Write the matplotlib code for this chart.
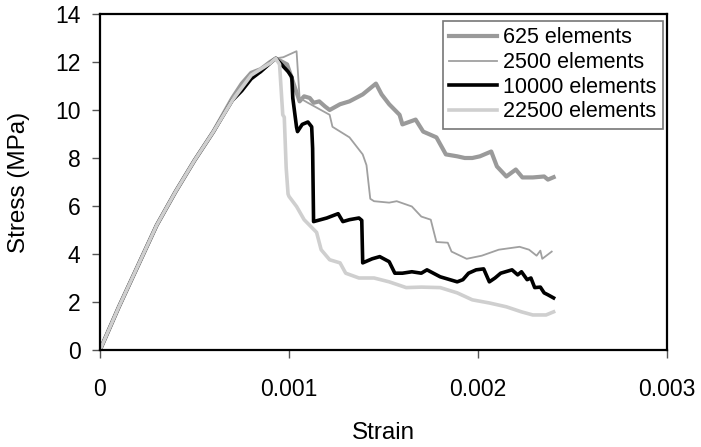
import matplotlib
matplotlib.use("Agg")
import matplotlib.pyplot as plt

plt.rcParams['font.family'] = ['Liberation Sans', 'DejaVu Sans']

# strain values in units of 1e-3, stress in MPa
strain_625 = [0, 0.1, 0.2, 0.3, 0.4, 0.5, 0.6, 0.7, 0.75, 0.8, 0.85, 0.9, 0.93,
              0.99, 1.056, 1.08, 1.11, 1.13, 1.16, 1.19, 1.215, 1.27, 1.32, 1.39, 1.46,
              1.49, 1.53, 1.585, 1.60, 1.67, 1.71, 1.78, 1.83, 1.89, 1.93, 1.97, 2.01,
              2.07, 2.10, 2.15, 2.20, 2.235, 2.29, 2.35, 2.37, 2.40]
stress_625 = [0, 1.8, 3.5, 5.2, 6.6, 7.9, 9.1, 10.5, 11.1, 11.55, 11.7, 12.0, 12.15,
              11.9, 10.36, 10.57, 10.5, 10.3, 10.36, 10.15, 10.0, 10.24, 10.36, 10.65, 11.1,
              10.65, 10.24, 9.8, 9.4, 9.6, 9.1, 8.86, 8.15, 8.07, 8.0, 8.0, 8.07,
              8.27, 7.65, 7.23, 7.52, 7.19, 7.19, 7.23, 7.1, 7.2]

strain_2500 = [0, 0.1, 0.2, 0.3, 0.4, 0.5, 0.6, 0.7, 0.75, 0.8, 0.85, 0.9, 0.93,
               0.97, 1.04, 1.056, 1.10, 1.146, 1.215, 1.23, 1.32, 1.39, 1.41, 1.43,
               1.45, 1.53, 1.57, 1.65, 1.70, 1.75, 1.78, 1.84, 1.86, 1.94, 2.02,
               2.11, 2.22, 2.27, 2.31, 2.33, 2.34, 2.39]
stress_2500 = [0, 1.8, 3.5, 5.2, 6.6, 7.9, 9.1, 10.4, 10.9, 11.5, 11.55, 11.9, 12.15,
               12.2, 12.45, 10.5, 10.3, 10.1, 9.8, 9.3, 8.86, 8.15, 7.7, 6.3,
               6.2, 6.14, 6.2, 5.98, 5.56, 5.43, 4.5, 4.47, 4.1, 3.8, 3.93,
               4.18, 4.3, 4.18, 3.93, 4.14, 3.8, 4.1]

strain_10000 = [0, 0.1, 0.2, 0.3, 0.4, 0.5, 0.6, 0.7, 0.75, 0.8, 0.85, 0.9, 0.93,
                0.96, 0.995, 1.015, 1.02, 1.04, 1.045, 1.07, 1.10, 1.12, 1.125, 1.13,
                1.2, 1.26, 1.285, 1.32, 1.37, 1.385, 1.39, 1.44, 1.48, 1.53, 1.56,
                1.60, 1.65, 1.70, 1.73, 1.80, 1.89, 1.92, 1.95, 1.99, 2.03, 2.06,
                2.09, 2.12, 2.18, 2.21, 2.23, 2.26, 2.28, 2.30, 2.33, 2.35, 2.37, 2.40]
stress_10000 = [0, 1.8, 3.5, 5.2, 6.6, 7.9, 9.1, 10.4, 10.8, 11.3, 11.6, 11.95, 12.15,
                11.9, 11.6, 11.37, 10.5, 9.28, 9.1, 9.4, 9.5, 9.3, 8.4, 5.35,
                5.5, 5.68, 5.35, 5.43, 5.5, 5.4, 3.63, 3.8, 3.89, 3.68, 3.2,
                3.2, 3.26, 3.2, 3.34, 3.05, 2.84, 2.93, 3.2, 3.34, 3.38, 2.84,
                3.0, 3.2, 3.34, 3.13, 3.26, 2.93, 3.0, 2.6, 2.62, 2.38, 2.3, 2.17]

strain_22500 = [0, 0.1, 0.2, 0.3, 0.4, 0.5, 0.6, 0.7, 0.8, 0.9, 0.93,
                0.95, 0.967, 0.975, 0.985, 0.995, 1.0, 1.04, 1.08, 1.146, 1.17,
                1.215, 1.27, 1.30, 1.37, 1.45, 1.53, 1.62, 1.70, 1.80, 1.89,
                1.97, 2.06, 2.15, 2.23, 2.29, 2.36, 2.40]
stress_22500 = [0, 1.8, 3.5, 5.2, 6.6, 7.9, 9.1, 10.4, 11.45, 11.95, 12.15,
                11.9, 9.8, 9.7, 7.6, 6.5, 6.4, 5.98, 5.43, 4.9, 4.18,
                3.76, 3.63, 3.2, 3.0, 3.0, 2.84, 2.6, 2.62, 2.6, 2.38,
                2.09, 1.96, 1.8, 1.59, 1.46, 1.46, 1.59]

series = [
    ("625 elements", strain_625, stress_625, "#9a9a9a", 3.0),
    ("2500 elements", strain_2500, stress_2500, "#a0a0a0", 1.3),
    ("10000 elements", strain_10000, stress_10000, "#000000", 2.6),
    ("22500 elements", strain_22500, stress_22500, "#cfcfcf", 2.6),
]

fig = plt.figure(figsize=(7.01, 4.47), dpi=100)
ax = fig.add_axes([100 / 701, 97 / 447, 567 / 701, 336 / 447])

for label, sx, sy, color, lw in series:
    ax.plot([v * 1e-3 for v in sx], sy, color=color, lw=lw, label=label,
            solid_joinstyle="round")

ax.set_xlim(0, 0.003)
ax.set_ylim(0, 14)
ax.set_xticks([0, 0.001, 0.002, 0.003])
ax.set_xticklabels(["0", "0.001", "0.002", "0.003"])
ax.set_yticks(range(0, 15, 2))
ax.tick_params(direction="out", length=6, width=1, labelsize=16.5, color="#555555")
ax.tick_params(axis="x", pad=14)
ax.tick_params(axis="y", pad=8)
for sp in ax.spines.values():
    sp.set_linewidth(1.6)

ax.set_xlabel("Strain", fontsize=17.5, labelpad=15)
ax.set_ylabel("Stress (MPa)", fontsize=17.5, labelpad=18)

leg = ax.legend(loc="upper right", bbox_to_anchor=(663 / 701, 426 / 447),
                bbox_transform=fig.transFigure, fontsize=15.5, frameon=True,
                fancybox=False, borderpad=0.3, labelspacing=0.17,
                handlelength=2.2, handletextpad=0.3, borderaxespad=0)
leg.get_frame().set_edgecolor("#555555")
leg.get_frame().set_linewidth(1.2)

fig.savefig("out.png", dpi=100)
